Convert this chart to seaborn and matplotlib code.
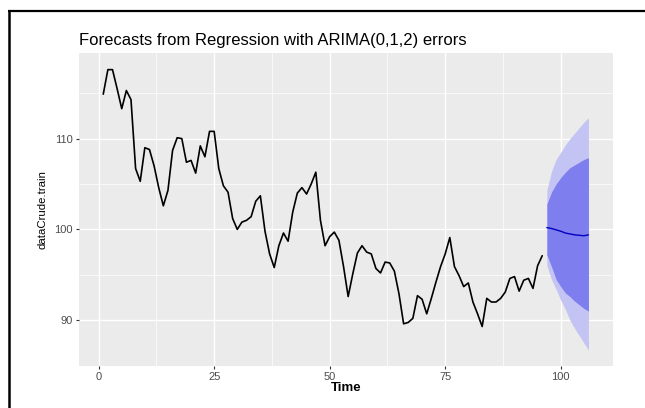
import numpy as np
import pandas as pd
import matplotlib
matplotlib.use("Agg")
import matplotlib.pyplot as plt
from matplotlib.lines import Line2D
from matplotlib.ticker import MultipleLocator
import seaborn as sns

# ---- data ----
obs_time = list(range(1, 97))
obs_values = [
    114.9, 117.6, 117.6, 115.5, 113.3, 115.3, 114.3, 106.7, 105.3, 109.0,
    108.8, 107.0, 104.6, 102.6, 104.3, 108.7, 110.1, 110.0, 107.4, 107.6,
    106.2, 109.2, 108.0, 110.8, 110.8, 106.7, 104.8, 104.1, 101.2, 100.0,
    100.8, 101.0, 101.4, 103.1, 103.7, 99.8, 97.3, 95.8, 98.2, 99.6,
    98.7, 101.9, 104.0, 104.6, 103.9, 105.0, 106.3, 101.0, 98.2, 99.2,
    99.7, 98.8, 95.9, 92.6, 95.1, 97.4, 98.2, 97.5, 97.3, 95.7,
    95.2, 96.4, 96.3, 95.4, 92.9, 89.6, 89.75, 90.2, 92.7, 92.3,
    90.7, 92.4, 94.2, 95.9, 97.3, 99.1, 95.9, 94.9, 93.7, 94.1,
    92.0, 90.7, 89.3, 92.4, 92.0, 92.0, 92.4, 93.1, 94.6, 94.8,
    93.2, 94.4, 94.6, 93.5, 96.0, 97.1,
]
fc_time = list(range(97, 107))
fc_mean = [100.2, 100.1, 99.95, 99.8, 99.6, 99.5, 99.4, 99.35, 99.3, 99.4]
lo80 = [97.2, 95.9, 94.5, 93.7, 93.0, 92.6, 92.1, 91.7, 91.3, 91.0]
hi80 = [102.8, 104.1, 105.0, 105.7, 106.3, 106.8, 107.1, 107.4, 107.7, 107.9]
lo95 = [96.0, 94.5, 93.4, 92.2, 91.2, 90.0, 89.1, 88.3, 87.5, 86.7]
hi95 = [104.3, 106.4, 107.7, 108.5, 109.3, 110.0, 110.6, 111.2, 111.8, 112.3]

x_ticks = [0, 25, 50, 75, 100]
y_ticks = [90, 100, 110]

title = "Forecasts from Regression with ARIMA(0,1,2) errors"
xlab = "Time"
ylab = "dataCrude.train"

obs = pd.DataFrame({"Time": obs_time, "value": obs_values})
fc = pd.DataFrame({"Time": fc_time, "mean": fc_mean,
                   "lo80": lo80, "hi80": hi80, "lo95": lo95, "hi95": hi95})

sns.set_theme(style="darkgrid")
plt.rcParams["font.family"] = ["Liberation Sans", "DejaVu Sans"]

W, H = 645, 408
fig = plt.figure(figsize=(W / 100, H / 100), dpi=100)
fig.patch.set_facecolor("white")

L, R, T, B = 79, 612.7, 53.3, 366
ax = fig.add_axes([L / W, 1 - B / H, (R - L) / W, (B - T) / H])
ax.set_facecolor("#EBEBEB")

ax.fill_between(fc["Time"], fc["lo95"], fc["hi95"], color="#C4C4F4", lw=0, zorder=2)
ax.fill_between(fc["Time"], fc["lo80"], fc["hi80"], color="#7E7EEE", lw=0, zorder=3)
sns.lineplot(data=obs, x="Time", y="value", ax=ax, color="black", lw=1.2, zorder=4)
sns.lineplot(data=fc, x="Time", y="mean", ax=ax, color="#0000C0", lw=1.0, zorder=5)

ax.set_xlim(-4.25, 111.25)
ax.set_ylim(84.95, 119.4)
ax.set_xticks(x_ticks)
ax.set_yticks(y_ticks)
ax.xaxis.set_minor_locator(MultipleLocator(12.5))
ax.yaxis.set_minor_locator(MultipleLocator(5))
ax.grid(which="major", color="white", lw=1.0)
ax.grid(which="minor", color="white", lw=0.5)
ax.set_axisbelow(True)
for s in ax.spines.values():
    s.set_visible(False)
ax.tick_params(axis="both", which="major", length=2.5, width=0.8, color="#333333",
               labelcolor="#4D4D4D", labelsize=8, pad=2, bottom=True, left=True)
ax.tick_params(axis="both", which="minor", length=0)
ax.set_xlabel("")
ax.set_ylabel("")

fig.text(L / W, 1 - 45 / H, title, fontsize=12, color="black", ha="left", va="baseline")
fig.text((L + R) / 2 / W, 1 - 388 / H, xlab, fontsize=9.5, fontweight="bold",
         ha="center", va="center", color="black")
fig.text(42 / W, 1 - 210 / H, ylab, fontsize=8.2, rotation=90,
         ha="center", va="center", color="black")

# outer frame lines (left and top)
fig.add_artist(Line2D([8.5 / W, 8.5 / W], [0, 1 - 10.7 / H], color="black", lw=1.8,
                      transform=fig.transFigure, solid_capstyle="butt"))
fig.add_artist(Line2D([7.6 / W, 1], [1 - 10.7 / H, 1 - 10.7 / H], color="black", lw=1.6,
                      transform=fig.transFigure, solid_capstyle="butt"))

fig.savefig("out.png", dpi=100, facecolor="white")
